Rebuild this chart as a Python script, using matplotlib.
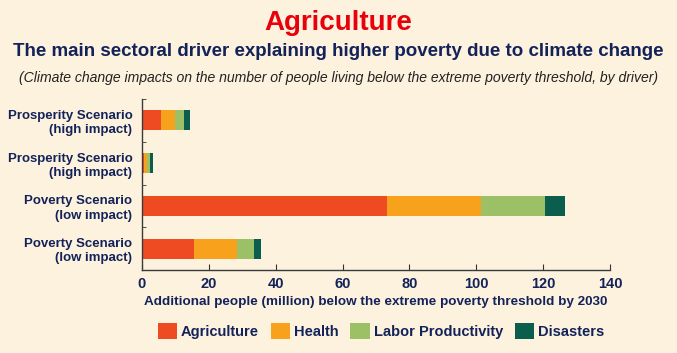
import matplotlib
matplotlib.use("Agg")
import matplotlib.pyplot as plt
from matplotlib.patches import Patch
import numpy as np

categories = ["Prosperity Scenario\n(high impact)", "Prosperity Scenario\n(high impact)",
              "Poverty Scenario\n(low impact)", "Poverty Scenario\n(low impact)"]
series_names = ["Agriculture", "Health", "Labor Productivity", "Disasters"]
agriculture = [5.6, 0.5, 73.3, 15.6]
health = [4.2, 1.0, 28.1, 12.8]
labor = [2.8, 1.0, 19.1, 5.2]
disasters = [1.7, 0.7, 6.0, 2.0]
xticks = [0, 20, 40, 60, 80, 100, 120, 140]

colors = ["#EF4B23", "#F7A11C", "#9BC065", "#0B5E4E"]
bg = "#FDF2DE"
navy = "#13235A"
fam2 = ["Liberation Sans", "DejaVu Sans"]

fig = plt.figure(figsize=(6.77, 3.53), dpi=100, facecolor=bg)
ax = fig.add_axes([142/677, 1-270/353, (610-142)/677, (270-99)/353])
ax.set_facecolor(bg)

y = np.arange(len(categories))
left = np.zeros(len(categories))
for name, vals, c in zip(series_names, [agriculture, health, labor, disasters], colors):
    ax.barh(y, vals, left=left, height=0.47, color=c, label=name)
    left += np.array(vals)

ax.set_ylim(len(categories) - 0.5, -0.5)
ax.set_xlim(0, 140)
ax.set_xticks(xticks)
ax.set_xticklabels([str(t) for t in xticks], fontsize=10.5, fontweight="bold", color=navy, family=fam2)
ax.set_yticks(y)
ax.set_yticklabels(categories, fontsize=9.5, fontweight="bold", color=navy, family=fam2,
                   linespacing=1.25)
ax.tick_params(axis="y", length=0, pad=7)
ax.set_yticks(np.arange(-0.5, len(categories) + 0.5, 1), minor=True)
ax.tick_params(axis="y", which="minor", length=3, direction="in", color="#333333")
ax.tick_params(axis="x", length=4, direction="in", color="#333333", pad=5)
for s in ["top", "right"]:
    ax.spines[s].set_visible(False)
for s in ["left", "bottom"]:
    ax.spines[s].set_color("#3a3a3a")
    ax.spines[s].set_linewidth(1.0)

ax.set_xlabel("Additional people (million) below the extreme poverty threshold by 2030",
              fontsize=9.7, fontweight="bold", color=navy, family=fam2, labelpad=4)

fig.text(0.5, 1-23/353, "Agriculture", ha="center", va="center", fontsize=20,
         fontweight="bold", color="#E8000B", family=fam2)
fig.text(0.5, 1-51/353, "The main sectoral driver explaining higher poverty due to climate change",
         ha="center", va="center", fontsize=13.5, fontweight="bold", color=navy, family=fam2)
fig.text(0.5, 1-78/353,
         "(Climate change impacts on the number of people living below the extreme poverty threshold, by driver)",
         ha="center", va="center", fontsize=10.1, style="italic", color="#222222", family=fam2)

handles = [Patch(facecolor=c, edgecolor="none") for c in colors]
leg = fig.legend(handles, series_names, loc="center", bbox_to_anchor=(381/677, 1-331/353),
                 ncol=4, frameon=False, handlelength=1.35, handleheight=1.35,
                 handletextpad=0.25, columnspacing=0.8,
                 prop={"size": 10.5, "weight": "bold", "family": fam2})
for t in leg.get_texts():
    t.set_color(navy)

fig.savefig("out.png", dpi=100, facecolor=bg)
